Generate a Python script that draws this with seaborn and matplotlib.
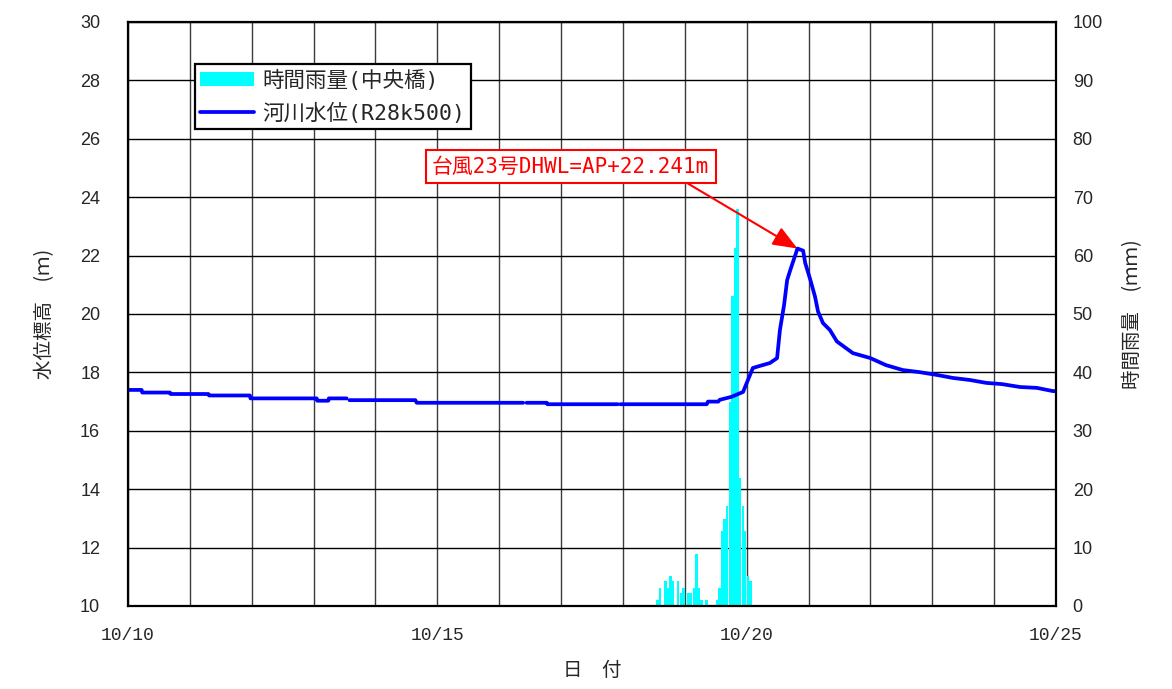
import numpy as np
import pandas as pd
import matplotlib
matplotlib.use("Agg")
import matplotlib.pyplot as plt
import seaborn as sns
from matplotlib.patches import Patch
from matplotlib.lines import Line2D
from matplotlib.ticker import MultipleLocator, FixedLocator

nan = float("nan")

# ---- data (hours since 10/10 00:00) ----
level_hours = [0, 5.3, 5.5, 16.3, 16.5, 31.2, 31.4, 47.3, 47.5, 73.2, 73.4, 77.7, 77.9, 84.8,
               85.3, 85.9, 111.5, 112, 153.3, 154, 154.6, 162.5, 162.7, 190, 190.5, 191,
               224.5, 225, 229, 229.5, 234, 238.6, 240.5, 242.4, 245, 249, 251.8, 252.9,
               254.5, 255.7, 256.9, 258.8, 259.7, 261.9, 262.7, 264.6, 266.5, 267.7, 269.6,
               272.3, 275, 281.2, 288, 294, 300.6, 307, 314, 320, 326.6, 333, 339, 346,
               352.6, 358.8, 360]
level_m = [17.40, 17.40, 17.31, 17.31, 17.26, 17.26, 17.21, 17.21, 17.11, 17.11, 17.03, 17.03,
           17.11, 17.11, nan, 17.05, 17.05, 16.96, 16.96, nan, 16.96, 16.96, 16.91, 16.91, nan,
           16.91, 16.91, 17.00, 17.00, 17.06, 17.16, 17.33, 17.74, 18.15, 18.22, 18.32, 18.49,
           19.45, 20.3, 21.16, 21.5, 22.0, 22.241, 22.17, 21.75, 21.2, 20.6, 20.08, 19.69,
           19.45, 19.06, 18.66, 18.49, 18.25, 18.08, 18.01, 17.91, 17.81, 17.74, 17.64, 17.60,
           17.50, 17.47, 17.36, 17.36]

rain_hours = list(range(205, 225)) + list(range(228, 242))
rain_mm = [1.0, 3.0, 0.0, 4.2, 3.0, 5.1, 4.2, 0.0, 4.2, 2.2, 3.0, 0.0, 2.2, 2.2, 3.0, 8.9,
           3.0, 1.0, 0.0, 1.0,
           1.0, 3.1, 12.8, 14.9, 17.1, 35.0, 53.0, 61.3, 68.0, 22.0, 17.1, 12.8, 5.1, 4.2]

date_tick_hours = [0, 120, 240, 360]
date_labels = ["10/10", "10/15", "10/20", "10/25"]
annot_text = "台風23号DHWL=AP+22.241m"
legend_labels = ["時間雨量(中央橋)", "河川水位(R28k500)"]

# ---- style ----
sns.set_theme(style="white")
plt.rcParams['font.family'] = ['Liberation Sans', 'Noto Sans CJK JP', 'DejaVu Sans']
cjk = ['Noto Sans CJK JP', 'DejaVu Sans']
mono_cjk = ['DejaVu Sans Mono', 'Noto Sans CJK JP']

fig = plt.figure(figsize=(11.72, 6.89), dpi=100)
ax = fig.add_axes([128 / 1172, 1 - 606 / 689, 928 / 1172, 584 / 689])
ax2 = ax.twinx()
ax.set_zorder(2)
ax2.set_zorder(1)
ax.patch.set_visible(False)

# rain bars (one bar per hour, spanning that hour)
ax2.bar(rain_hours, rain_mm, width=0.93, align='edge', color='#00FFFF', edgecolor='none',
        linewidth=0, zorder=2)

# water level line (split at missing data)
df = pd.DataFrame({'hour': level_hours, 'level': level_m})
df['seg'] = df['level'].isna().cumsum()
df = df.dropna()
sns.lineplot(data=df, x='hour', y='level', units='seg', estimator=None, sort=False,
             ax=ax, color='#0000FF', linewidth=2.7)

# axes ranges & ticks
ax.set_xlim(0, 360)
ax.set_ylim(10, 30)
ax2.set_ylim(0, 100)
ax.xaxis.set_major_locator(FixedLocator(date_tick_hours))
ax.set_xticklabels(date_labels, family='Liberation Mono', fontsize=13)
ax.xaxis.set_minor_locator(MultipleLocator(24))
ax.yaxis.set_major_locator(MultipleLocator(2))
ax2.yaxis.set_major_locator(MultipleLocator(10))

ax.tick_params(axis='x', which='both', length=0, pad=15)
ax.tick_params(axis='y', which='both', length=0, pad=20, labelsize=13)
ax2.tick_params(axis='y', which='both', length=0, pad=12, labelsize=13)

# grid on the back axes
ax2.xaxis.set_visible(True)
ax2.tick_params(axis='x', which='both', bottom=False, top=False, labelbottom=False, labeltop=False, length=0)
ax2.set_axisbelow(True)
ax2.grid(True, axis='x', which='both', color='#3c3c3c', linewidth=1.0)
ax2.grid(True, axis='y', which='major', color='black', linewidth=1.0)
ax.grid(False)

for s in ax.spines.values():
    s.set_visible(True)
    s.set_color('black')
    s.set_linewidth(1.6)
for s in ax2.spines.values():
    s.set_visible(False)

ax.set_xlabel("日　付", family=cjk, fontsize=14, labelpad=12)
ax.set_ylabel("水位標高　(ｍ)", family=cjk, fontsize=14, labelpad=18)
ax2.set_ylabel("時間雨量　(ｍｍ)", family=cjk, fontsize=14, labelpad=14, rotation=90)

# legend
handles = [Patch(facecolor='#00FFFF', edgecolor='none'),
           Line2D([0], [0], color='#0000FF', linewidth=2.7)]
leg = ax.legend(handles, legend_labels, loc='upper left', bbox_to_anchor=(0.072, 0.928),
                borderaxespad=0, prop={'family': mono_cjk, 'size': 15.5}, frameon=True,
                fancybox=False, framealpha=1, edgecolor='black', handlelength=2.5,
                handleheight=0.65, labelspacing=0.55, borderpad=0.25, handletextpad=0.4)
leg.get_frame().set_linewidth(1.6)

# annotation of peak
i_peak = int(np.nanargmax(level_m))
ax.annotate(annot_text, xy=(level_hours[i_peak], level_m[i_peak]), xycoords='data',
            xytext=(0.477, 0.7526), textcoords='axes fraction', ha='center', va='center',
            fontsize=15, color='red', family=mono_cjk,
            bbox=dict(boxstyle='square,pad=0.3', fc='white', ec='red', lw=1.5),
            arrowprops=dict(arrowstyle='-|>,head_length=1.0,head_width=0.4', color='red',
                            lw=1.5, shrinkA=0, shrinkB=0, relpos=(0.88, 0)))

fig.savefig("out.png", dpi=100)
